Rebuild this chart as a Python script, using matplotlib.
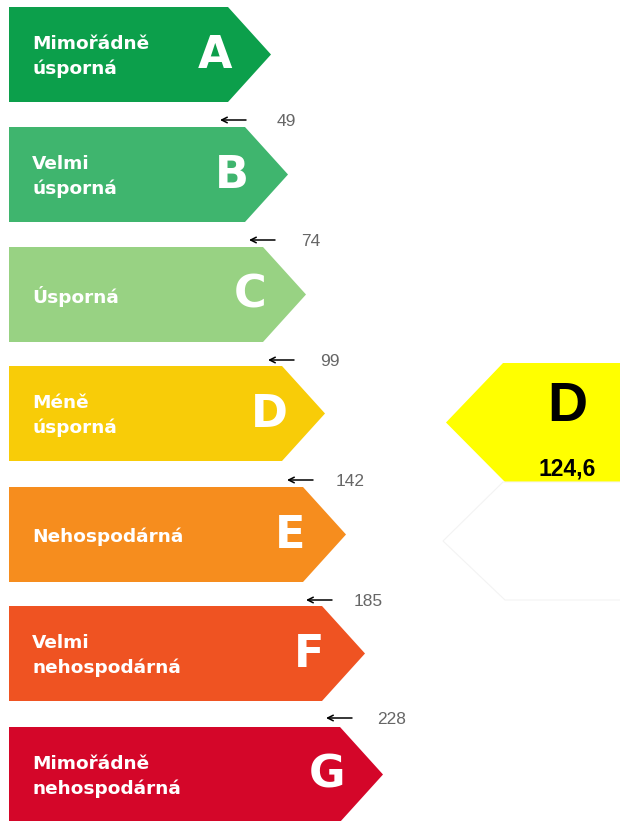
import matplotlib.pyplot as plt
import numpy as np
from matplotlib.patches import Polygon

# energy classes, top (best) to bottom (worst)
classes = ["A", "B", "C", "D", "E", "F", "G"]
class_names = [
    "Mimořádně\núsporná",
    "Velmi\núsporná",
    "Úsporná",
    "Méně\núsporná",
    "Nehospodárná",
    "Velmi\nnehospodárná",
    "Mimořádně\nnehospodárná",
]
class_colors = ["#0c9f4b", "#3fb56e", "#98d283", "#f8cc08", "#f68d1e", "#ef5322", "#d40629"]
# class boundaries (upper limit of A..F)
thresholds = [49, 74, 99, 142, 185, 228]
value = 124.6

# layout (pixels)
W, H = 620, 821
row_top = [7, 127, 247, 366, 487, 606, 727]
bar_h = 95
rect_right = [228, 245, 263, 282, 303, 322, 340]
tip_w = 43
arrow_head = [220, 249, 268, 287, 306, 326]
arrow_y = [120, 240, 360, 480, 600, 718]
label_x = [277, 301, 320, 336, 354, 377]

fig = plt.figure(figsize=(W / 100, H / 100), dpi=100)
ax = fig.add_axes([0, 0, 1, 1])
ax.set_xlim(0, W)
ax.set_ylim(H, 0)
ax.axis("off")

label_font = ["DejaVu Sans"]

for i, cls in enumerate(classes):
    top = row_top[i]
    bot = top + bar_h
    mid = (top + bot) / 2
    r = rect_right[i]
    ax.add_patch(Polygon([(9, top), (r, top), (r + tip_w, mid), (r, bot), (9, bot)],
                         closed=True, facecolor=class_colors[i], edgecolor="none"))
    ax.text(32, mid + 2, class_names[i], color="white", fontsize=13.3, fontweight="bold",
            family=label_font, ha="left", va="center", linespacing=1.45)
    ax.text(r - 13, mid + 1, cls, color="white", fontsize=32, fontweight="bold",
            family=label_font, ha="center", va="center")

# threshold arrows and values
for j, t in enumerate(thresholds):
    x0 = arrow_head[j]
    y0 = arrow_y[j]
    ax.annotate("", xy=(x0, y0), xytext=(x0 + 26, y0),
                arrowprops=dict(arrowstyle="->", color="black", lw=1.1, shrinkA=0, shrinkB=0,
                                mutation_scale=10))
    ax.text(label_x[j], y0 + 1, str(t), color="#666666", fontsize=12.5,
            family=["Liberation Sans"], ha="left", va="center")

# marker for the actual value
k = int(np.searchsorted(thresholds, value))
m_top = row_top[k] - 3
m_bot = m_top + 119
m_mid = (m_top + m_bot) / 2
ax.add_patch(Polygon([(503, m_top), (W, m_top), (W, m_bot), (505, m_bot), (446, m_mid)],
                     closed=True, facecolor="#ffff00", edgecolor="none"))
ax.text(567, m_top + 44, classes[k], color="black", fontsize=40, fontweight="bold",
        family=["Liberation Sans"], ha="center", va="center")
ax.text(567, m_top + 106, f"{value:.1f}".replace(".", ","), color="black", fontsize=16.5,
        fontweight="bold", family=["Liberation Sans"], ha="center", va="center")

# faint empty marker outline below
g_top = m_bot
g_bot = g_top + 118
ax.add_patch(Polygon([(503, g_top), (W + 5, g_top), (W + 5, g_bot), (505, g_bot), (443, (g_top + g_bot) / 2)],
                     closed=True, facecolor="white", edgecolor="#f3f3f3", lw=0.8))

fig.savefig("out.png", dpi=100)
